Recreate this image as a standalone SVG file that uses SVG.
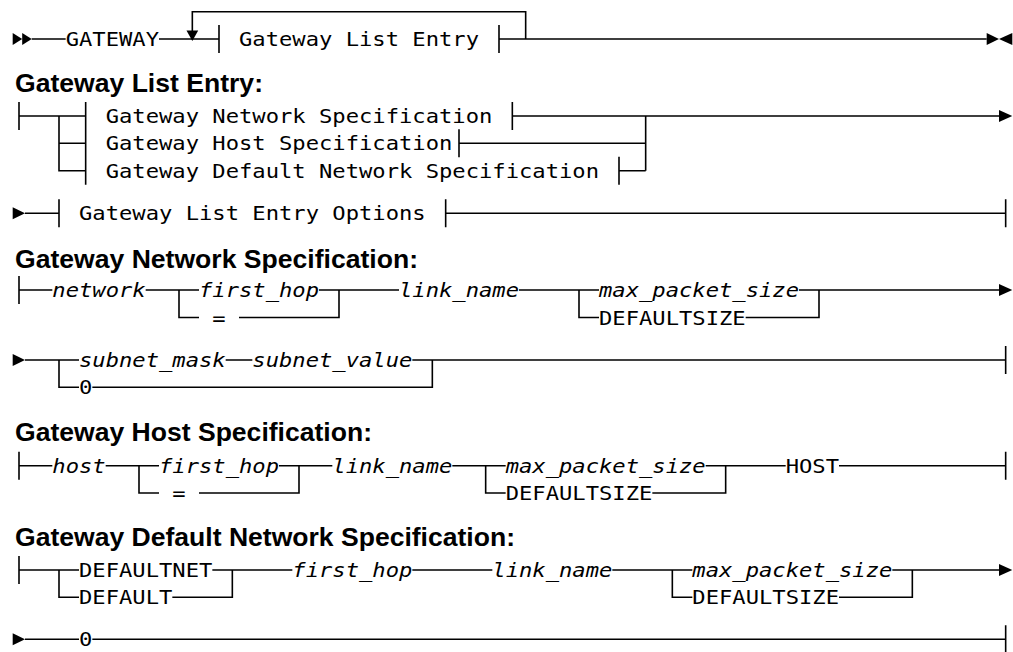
<svg xmlns="http://www.w3.org/2000/svg" width="1013" height="652" viewBox="0 0 1013 652">
<style>
.m{font-family:"DejaVu Sans Mono","Liberation Mono",monospace;font-size:19.5px;fill:#000}
.i{font-style:italic}
.h{font-family:"Liberation Sans",Arial,sans-serif;font-weight:bold;font-size:25px;fill:#000}
.ln{stroke:#000;stroke-width:1.6;fill:none}
.ar{fill:#000;stroke:none}
</style>
<rect width="1013" height="652" fill="#fff"/>
<g id="connectors">
<polygon class="ar" points="12.7,33 22.2,39 12.7,45"/>
<polygon class="ar" points="22.2,33 31.7,39 22.2,45"/>
<path class="ln" d="M31.7 39H65.67M159 39H219M219 25V53M499 25V53M499 39H986.7"/>
<path class="ln" d="M525.67 39V11.7H192.33V31"/>
<polygon class="ar" points="186.5,30.5 198.2,30.5 192.33,41"/>
<polygon class="ar" points="986.7,33 999,39 986.7,45"/>
<polygon class="ar" points="1012.3,33 999,39 1012.3,45"/>
<path class="ln" d="M19 102V130M19 116H85.67M59 116V170.7H85.67M59 143.3H85.67M85.67 102V184.7"/>
<path class="ln" d="M512.33 102V130M512.33 116H999M645.67 116V170.7M459 129.3V157.3M459 143.3H645.67M619 156.7V184.7M619 170.7H645.67"/>
<polygon class="ar" points="999,110 1012.3,116 999,122"/>
<polygon class="ar" points="12.7,207.3 25,213.3 12.7,219.3"/>
<path class="ln" d="M25 213.3H59M59 199.3V227.3M445.67 199.3V227.3M445.67 213.3H1005.67M1005.67 199.3V227.3"/>
<path class="ln" d="M19 276V304M19 290H52.33M145.67 290H199M179 290V317.5H199M239 317.5H339V290M319 290H399M519 290H599M579 290V317.5H599M745.67 317.5H819V290M799 290H999"/>
<polygon class="ar" points="999,284 1012.3,290 999,296"/>
<polygon class="ar" points="12.7,354 25,360 12.7,366"/>
<path class="ln" d="M25 360H79M59 360V387.3H79M92.33 387.3H432.33V360M225.67 360H252.33M412.33 360H1005.67M1005.67 346V374"/>
<path class="ln" d="M19 451.7V479.7M19 465.7H52.33M105.67 465.7H159M139 465.7V493H159M199 493H299V465.7M279 465.7H332.33M452.33 465.7H505.67M485.67 465.7V493H505.67M652.33 493H725.67V465.7M705.67 465.7H785.67M839 465.7H1005.67M1005.67 451.7V479.7"/>
<path class="ln" d="M19 556V584M19 570H79M59 570V597.3H79M172.33 597.3H232.33V570M212.33 570H292.33M412.33 570H492.33M612.33 570H692.33M672.33 570V597.3H692.33M839 597.3H912.33V570M892.33 570H999"/>
<polygon class="ar" points="999,564 1012.3,570 999,576"/>
<polygon class="ar" points="12.7,633.3 25,639.3 12.7,645.3"/>
<path class="ln" d="M25 639.3H79M92.33 639.3H1005.67M1005.67 625.3V653.3"/>
</g>
<g id="n-gateway"><text class="m" transform="translate(65.67,46) scale(1.1357,1)" textLength="82.18" lengthAdjust="spacingAndGlyphs">GATEWAY</text></g>
<g id="n-gle"><text class="m" transform="translate(239,46) scale(1.1357,1)" textLength="211.32" lengthAdjust="spacingAndGlyphs">Gateway List Entry</text></g>
<g id="h-gle"><text class="h" x="15" y="92" textLength="248" lengthAdjust="spacingAndGlyphs">Gateway List Entry:</text></g>
<g id="n-gns"><text class="m" transform="translate(105.67,123) scale(1.1357,1)" textLength="340.46" lengthAdjust="spacingAndGlyphs">Gateway Network Specification</text></g>
<g id="n-ghs"><text class="m" transform="translate(105.67,150.3) scale(1.1357,1)" textLength="305.24" lengthAdjust="spacingAndGlyphs">Gateway Host Specification</text></g>
<g id="n-gdns"><text class="m" transform="translate(105.67,177.7) scale(1.1357,1)" textLength="434.38" lengthAdjust="spacingAndGlyphs">Gateway Default Network Specification</text></g>
<g id="n-gleo"><text class="m" transform="translate(79,220.3) scale(1.1357,1)" textLength="305.24" lengthAdjust="spacingAndGlyphs">Gateway List Entry Options</text></g>
<g id="h-gns"><text class="h" x="15" y="268" textLength="403" lengthAdjust="spacingAndGlyphs">Gateway Network Specification:</text></g>
<g id="n-network"><text class="m i" transform="translate(52.33,297) scale(1.1357,1)" textLength="82.18" lengthAdjust="spacingAndGlyphs">network</text></g>
<g id="n-fh1"><text class="m i" transform="translate(199,297) scale(1.1357,1)" textLength="105.66" lengthAdjust="spacingAndGlyphs">first_hop</text></g>
<g id="n-eq1"><text class="m" transform="translate(212.33,324.5) scale(1.1357,1)" textLength="11.74" lengthAdjust="spacingAndGlyphs">=</text></g>
<g id="n-ln1"><text class="m i" transform="translate(399,297) scale(1.1357,1)" textLength="105.66" lengthAdjust="spacingAndGlyphs">link_name</text></g>
<g id="n-mps1"><text class="m i" transform="translate(599,297) scale(1.1357,1)" textLength="176.1" lengthAdjust="spacingAndGlyphs">max_packet_size</text></g>
<g id="n-ds1"><text class="m" transform="translate(599,324.5) scale(1.1357,1)" textLength="129.14" lengthAdjust="spacingAndGlyphs">DEFAULTSIZE</text></g>
<g id="n-smask"><text class="m i" transform="translate(79,367) scale(1.1357,1)" textLength="129.14" lengthAdjust="spacingAndGlyphs">subnet_mask</text></g>
<g id="n-sval"><text class="m i" transform="translate(252.33,367) scale(1.1357,1)" textLength="140.88" lengthAdjust="spacingAndGlyphs">subnet_value</text></g>
<g id="n-zero1"><text class="m" transform="translate(79,394.3) scale(1.1357,1)" textLength="11.74" lengthAdjust="spacingAndGlyphs">0</text></g>
<g id="h-ghs"><text class="h" x="15" y="441" textLength="357" lengthAdjust="spacingAndGlyphs">Gateway Host Specification:</text></g>
<g id="n-host"><text class="m i" transform="translate(52.33,472.7) scale(1.1357,1)" textLength="46.96" lengthAdjust="spacingAndGlyphs">host</text></g>
<g id="n-fh2"><text class="m i" transform="translate(159,472.7) scale(1.1357,1)" textLength="105.66" lengthAdjust="spacingAndGlyphs">first_hop</text></g>
<g id="n-eq2"><text class="m" transform="translate(172.33,500) scale(1.1357,1)" textLength="11.74" lengthAdjust="spacingAndGlyphs">=</text></g>
<g id="n-ln2"><text class="m i" transform="translate(332.33,472.7) scale(1.1357,1)" textLength="105.66" lengthAdjust="spacingAndGlyphs">link_name</text></g>
<g id="n-mps2"><text class="m i" transform="translate(505.67,472.7) scale(1.1357,1)" textLength="176.1" lengthAdjust="spacingAndGlyphs">max_packet_size</text></g>
<g id="n-ds2"><text class="m" transform="translate(505.67,500) scale(1.1357,1)" textLength="129.14" lengthAdjust="spacingAndGlyphs">DEFAULTSIZE</text></g>
<g id="n-hostkw"><text class="m" transform="translate(785.67,472.7) scale(1.1357,1)" textLength="46.96" lengthAdjust="spacingAndGlyphs">HOST</text></g>
<g id="h-gdns"><text class="h" x="15" y="546" textLength="500" lengthAdjust="spacingAndGlyphs">Gateway Default Network Specification:</text></g>
<g id="n-defnet"><text class="m" transform="translate(79,577) scale(1.1357,1)" textLength="117.4" lengthAdjust="spacingAndGlyphs">DEFAULTNET</text></g>
<g id="n-default"><text class="m" transform="translate(79,604.3) scale(1.1357,1)" textLength="82.18" lengthAdjust="spacingAndGlyphs">DEFAULT</text></g>
<g id="n-fh3"><text class="m i" transform="translate(292.33,577) scale(1.1357,1)" textLength="105.66" lengthAdjust="spacingAndGlyphs">first_hop</text></g>
<g id="n-ln3"><text class="m i" transform="translate(492.33,577) scale(1.1357,1)" textLength="105.66" lengthAdjust="spacingAndGlyphs">link_name</text></g>
<g id="n-mps3"><text class="m i" transform="translate(692.33,577) scale(1.1357,1)" textLength="176.1" lengthAdjust="spacingAndGlyphs">max_packet_size</text></g>
<g id="n-ds3"><text class="m" transform="translate(692.33,604.3) scale(1.1357,1)" textLength="129.14" lengthAdjust="spacingAndGlyphs">DEFAULTSIZE</text></g>
<g id="n-zero2"><text class="m" transform="translate(79,646.3) scale(1.1357,1)" textLength="11.74" lengthAdjust="spacingAndGlyphs">0</text></g>
</svg>
